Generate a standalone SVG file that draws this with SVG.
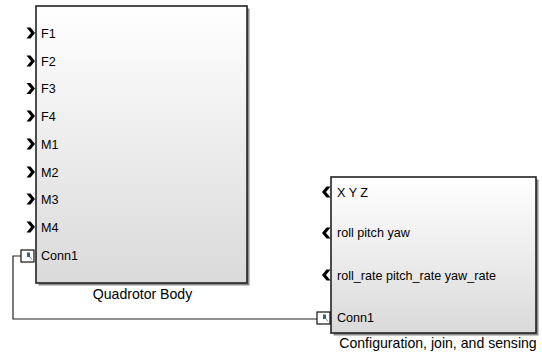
<svg xmlns="http://www.w3.org/2000/svg" width="542" height="355" viewBox="0 0 542 355">
  <defs>
    <linearGradient id="blockFill" x1="0" y1="0" x2="0" y2="1">
      <stop offset="0" stop-color="#ffffff"/>
      <stop offset="1" stop-color="#dadada"/>
    </linearGradient>
    <!-- input port chevron, centred on the port position, pointing right -->
    <polygon id="inPort" points="-4.5,-5.5 -0.5,-5.5 4,0 -0.5,5.5 -4.5,5.5 0,0" fill="#000"/>
    <!-- output port chevron, pointing left -->
    <polygon id="outPort" points="4.5,-5.5 0.5,-5.5 -4,0 0.5,5.5 4.5,5.5 0,0" fill="#000"/>
    <!-- physical connection port -->
    <g id="connPort">
      <rect x="0" y="0" width="13" height="12" fill="#fff" stroke="#111" stroke-width="1.2"/>
      <rect x="6" y="2.5" width="3" height="4.5" fill="#3f5f80"/>
      <line x1="9" y1="7" x2="11" y2="9.5" stroke="#7a8a9a" stroke-width="1"/>
    </g>
  </defs>
  <style>
    .shadow { fill: #8c8c8c; }
    .block { fill: url(#blockFill); stroke: #222; stroke-width: 1.6; }
    .plabel { font-family: "Liberation Sans", Arial, sans-serif; font-size: 12.6px; fill: #000; }
    .title { font-family: "Liberation Sans", Arial, sans-serif; font-size: 14.1px; fill: #000; text-anchor: middle; }
    .wire { fill: none; stroke: #222; stroke-width: 1.2; }
  </style>
  <rect width="542" height="355" fill="#fff"/>

  <!-- physical connection between the two Conn1 ports -->
  <g id="connectors">
    <path class="wire" d="M 21 256 H 13 V 319 H 317"/>
  </g>

  <g id="quadrotor-body">
    <rect class="shadow" x="38.5" y="8.5" width="211" height="277"/>
    <rect class="block" x="36" y="6" width="211" height="277"/>
    <use href="#inPort" x="31" y="33"/>
    <use href="#inPort" x="31" y="61"/>
    <use href="#inPort" x="31" y="88.5"/>
    <use href="#inPort" x="31" y="116"/>
    <use href="#inPort" x="31" y="144"/>
    <use href="#inPort" x="31" y="172"/>
    <use href="#inPort" x="31" y="199"/>
    <use href="#inPort" x="31" y="227"/>
    <use href="#connPort" x="21" y="250"/>
    <text class="plabel" x="41" y="37.5">F1</text>
    <text class="plabel" x="41" y="65.5">F2</text>
    <text class="plabel" x="41" y="93">F3</text>
    <text class="plabel" x="41" y="120.5">F4</text>
    <text class="plabel" x="41" y="148.5">M1</text>
    <text class="plabel" x="41" y="176.5">M2</text>
    <text class="plabel" x="41" y="203.5">M3</text>
    <text class="plabel" x="41" y="231.5">M4</text>
    <text class="plabel" x="41" y="259.5">Conn1</text>
    <text class="title" x="142.5" y="299">Quadrotor Body</text>
  </g>

  <g id="configuration-join-sensing">
    <rect class="shadow" x="333.5" y="179.5" width="205" height="156"/>
    <rect class="block" x="331" y="177" width="205" height="156"/>
    <use href="#outPort" x="326" y="192"/>
    <use href="#outPort" x="326" y="233"/>
    <use href="#outPort" x="326" y="275"/>
    <use href="#connPort" x="317" y="312"/>
    <text class="plabel" x="337" y="196.5">X Y Z</text>
    <text class="plabel" x="337" y="237">roll pitch yaw</text>
    <text class="plabel" x="337" y="279.5">roll_rate pitch_rate yaw_rate</text>
    <text class="plabel" x="337" y="321.5">Conn1</text>
    <text class="title" x="438" y="348">Configuration, join, and sensing</text>
  </g>
</svg>
